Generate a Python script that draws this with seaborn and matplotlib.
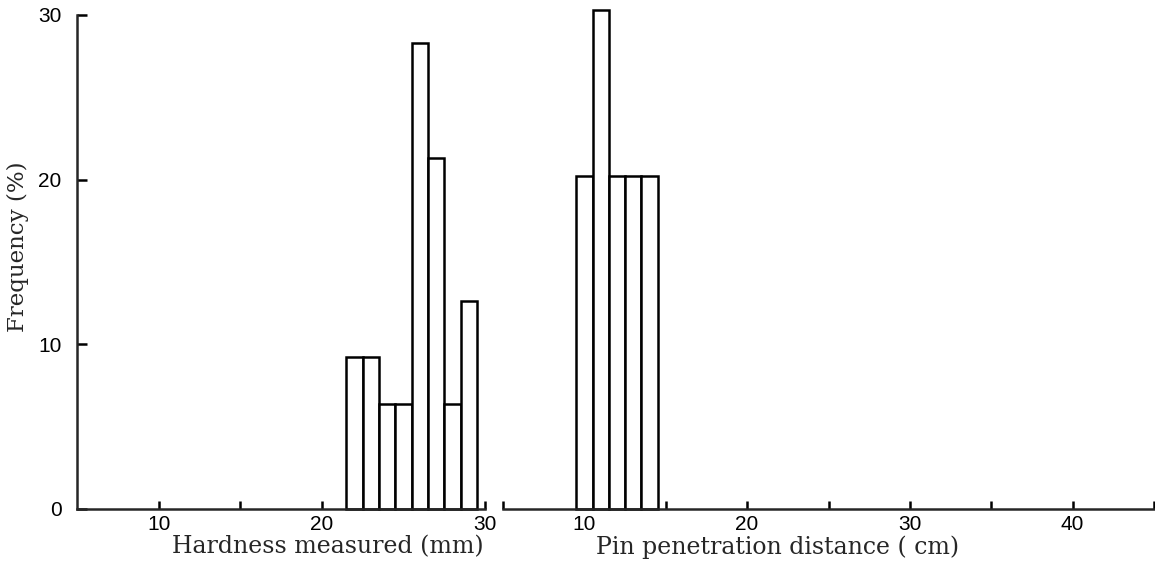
import matplotlib
matplotlib.use("Agg")
import matplotlib.pyplot as plt
import seaborn as sns
import pandas as pd

# Frequency distributions (%), one bar per integer class
hardness_mm = [22, 23, 24, 25, 26, 27, 28, 29]
hardness_freq = [9.2, 9.2, 6.4, 6.4, 28.3, 21.3, 6.4, 12.6]

pin_cm = [10, 11, 12, 13, 14]
pin_freq = [20.2, 30.3, 20.2, 20.2, 20.2]

y_ticks = [0, 10, 20, 30]
left_major = [10, 20, 30]
left_minor = [15, 25]
right_major = [10, 20, 30, 40]
right_minor = [5, 15, 25, 35, 45]

x_label_left = "Hardness measured (mm)"
x_label_right = "Pin penetration distance ( cm)"
y_label = "Frequency (%)"

sns.set_theme(style="white")
plt.rcParams["font.family"] = ["Liberation Sans Narrow", "Liberation Sans", "DejaVu Sans"]

W, H = 1155, 561
fig = plt.figure(figsize=(W / 100, H / 100), dpi=100)
fig.patch.set_facecolor("white")

y0_px, ytop_px = 509, 509 - 31 * 16.47


def axes_rect(x_left, x_right):
    return [x_left / W, (H - y0_px) / H, (x_right - x_left) / W, (y0_px - ytop_px) / H]


ax1 = fig.add_axes(axes_rect(77, 485))
ax2 = fig.add_axes(axes_rect(503, 1154))

lw = 1.8
bar_style = dict(discrete=True, stat="count", color="white", edgecolor="black",
                 linewidth=lw, alpha=1.0)

sns.histplot(data=pd.DataFrame({"x": hardness_mm, "w": hardness_freq}),
             x="x", weights="w", ax=ax1, **bar_style)
sns.histplot(data=pd.DataFrame({"x": pin_cm, "w": pin_freq}),
             x="x", weights="w", ax=ax2, **bar_style)

tick_font = dict(fontsize=15)
serif = ["DejaVu Serif"]

for ax in (ax1, ax2):
    ax.set_facecolor("white")
    ax.set_ylim(0, 31)
    ax.spines["top"].set_visible(False)
    ax.spines["right"].set_visible(False)
    ax.spines["bottom"].set_linewidth(lw)
    ax.spines["left"].set_linewidth(lw)
    ax.set_ylabel("")
    ax.tick_params(axis="x", which="both", direction="in", length=6, width=lw,
                   pad=4, labelsize=15, colors="black", bottom=True)
    for p in ax.patches:
        p.set_clip_on(False)

ax1.set_xlim(5, 30)
ax1.set_xticks(left_major)
ax1.set_xticks(left_minor, minor=True)
ax1.set_xticklabels([str(v) for v in left_major], **tick_font)
ax1.set_yticks(y_ticks)
ax1.set_yticklabels([str(v) for v in y_ticks], **tick_font)
ax1.tick_params(axis="y", direction="in", length=7, width=lw, pad=11,
                labelsize=15, colors="black", left=True)
ax1.spines["left"].set_bounds(0, 30)
ax1.set_ylabel(y_label, family=serif, fontsize=16.5)
ax1.yaxis.set_label_coords((18 - 77) / 408, 0.513)
ax1.yaxis.label.set_va("center")

ax2.set_xlim(5, 45)
ax2.set_xticks(right_major)
ax2.set_xticks(right_minor, minor=True)
ax2.set_xticklabels([str(v) for v in right_major], **tick_font)
ax2.spines["left"].set_visible(False)
ax2.set_yticks([])

span = y0_px - ytop_px
ax1.set_xlabel(x_label_left, family=serif, fontsize=17)
ax1.xaxis.set_label_coords((328 - 77) / 408, (y0_px - 547) / span)
ax1.xaxis.label.set_va("center")
ax2.set_xlabel(x_label_right, family=serif, fontsize=17)
ax2.xaxis.set_label_coords((778 - 503) / 651, (y0_px - 547) / span)
ax2.xaxis.label.set_va("center")

fig.savefig("out.png", dpi=100, facecolor="white")
